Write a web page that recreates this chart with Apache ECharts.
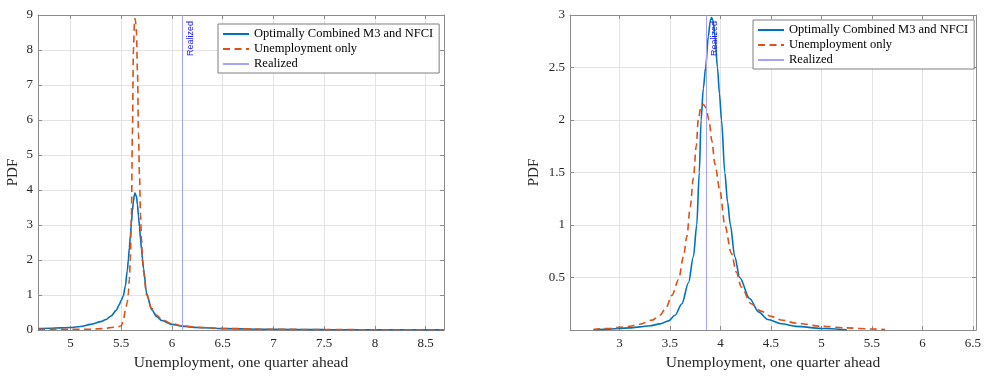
<!DOCTYPE html>
<html>
<head>
<meta charset="utf-8">
<script src="https://cdn.jsdelivr.net/npm/echarts@6/dist/echarts.min.js"></script>
<style>
  html, body { margin: 0; background: #fff; }
  #chart { width: 987px; height: 376px; }
</style>
</head>
<body>
<div id="chart"></div>
<script>
// Predictive densities of unemployment one quarter ahead.
const seriesNames = ["Optimally Combined M3 and NFCI", "Unemployment only", "Realized"];

// left panel
const leftX = [4.68, 4.8, 4.9, 5.0, 5.1, 5.2, 5.3, 5.35, 5.4, 5.45, 5.48, 5.5, 5.52, 5.54, 5.56, 5.57,
  5.58, 5.59, 5.6, 5.61, 5.62, 5.63, 5.635, 5.64, 5.65, 5.66, 5.67, 5.68, 5.69, 5.7, 5.71, 5.72,
  5.75, 5.8, 5.85, 5.9, 6.0, 6.1, 6.25, 6.5, 7.0, 7.5, 8.0, 8.68];
const leftCombined = [0.04, 0.05, 0.06, 0.07, 0.1, 0.16, 0.24, 0.3, 0.4, 0.56, 0.72, 0.85, 0.97, 1.25, 1.7, 2.0,
  2.35, 2.7, 3.05, 3.4, 3.68, 3.87, 3.91, 3.92, 3.82, 3.58, 3.25, 2.95, 2.6, 2.3, 2.02, 1.75,
  1.05, 0.58, 0.38, 0.27, 0.16, 0.11, 0.07, 0.04, 0.02, 0.01, 0.008, 0.005];
const leftUnemp = [0.02, 0.02, 0.02, 0.02, 0.02, 0.025, 0.04, 0.05, 0.07, 0.09, 0.1, 0.12, 0.25, 0.55, 0.8, 1.05,
  1.45, 2.05, 3.2, 5.6, 8.0, 8.75, 8.9, 8.85, 8.5, 7.4, 5.6, 4.4, 3.3, 2.6, 1.95, 1.65,
  1.0, 0.62, 0.42, 0.3, 0.18, 0.12, 0.075, 0.045, 0.02, 0.012, 0.008, 0.005];
const leftRealized = 6.1;
const leftXRange = [4.68, 8.68];
const leftYRange = [0, 9];

// right panel
const rightCombinedX = [2.76, 2.9, 3.0, 3.1, 3.2, 3.3, 3.4, 3.487, 3.55, 3.618, 3.683, 3.732, 3.765, 3.79,
  3.808, 3.83, 3.853, 3.88, 3.9, 3.912, 3.925, 3.945, 3.97, 3.99, 4.01, 4.043, 4.07, 4.098, 4.141,
  4.19, 4.288, 4.38, 4.468, 4.6, 4.75, 5.0, 5.25];
const rightCombined = [0.003, 0.008, 0.015, 0.02, 0.03, 0.04, 0.058, 0.087, 0.14, 0.25, 0.45, 0.7, 1.0, 1.5,
  2.0, 2.3, 2.5, 2.8, 2.95, 2.975, 2.95, 2.8, 2.5, 2.25, 2.0, 1.5, 1.22, 1.0, 0.7,
  0.5, 0.3, 0.17, 0.1, 0.06, 0.035, 0.015, 0.003];
const rightUnempX = [2.74, 2.9, 3.0, 3.1, 3.2, 3.324, 3.4, 3.455, 3.52, 3.585, 3.634, 3.667, 3.7, 3.732,
  3.76, 3.78, 3.805, 3.83, 3.855, 3.886, 3.915, 3.945, 3.994, 4.043, 4.108, 4.157, 4.206, 4.304,
  4.4, 4.5, 4.6, 4.75, 5.0, 5.25, 5.5, 5.63];
const rightUnemp = [0.005, 0.015, 0.025, 0.035, 0.055, 0.094, 0.14, 0.2, 0.33, 0.48, 0.7, 0.89, 1.17, 1.45,
  1.75, 2.0, 2.12, 2.15, 2.12, 2.0, 1.8, 1.58, 1.33, 1.0, 0.73, 0.55, 0.41, 0.25,
  0.18, 0.13, 0.095, 0.065, 0.035, 0.02, 0.01, 0.004];
const rightRealized = 3.863;
const rightXRange = [2.51, 6.53];
const rightYRange = [0, 3];

const pairs = (xs, ys) => xs.map((x, i) => [x, ys[i]]);

const SERIF = "'Liberation Serif', 'Times New Roman', serif";
const INK = "#262626";
const BOX = "#8c8c8c";
const GRIDLINE = "#e3e3e3";
const BLUE = "#0072BD";
const RED = "#D95319";
const REAL = "#a4a4ff";

function xAxes(range, grid) {
  const base = {
    type: "value", gridIndex: grid, min: range[0], max: range[1],
    minInterval: 0.5, maxInterval: 0.5,
    axisLine: { show: true, onZero: false, lineStyle: { color: BOX, width: 1 } },
    axisTick: { show: true, inside: true, length: 4, lineStyle: { color: BOX } },
  };
  return [
    { ...base, position: "bottom",
      name: "Unemployment, one quarter ahead", nameLocation: "middle", nameGap: 25,
      nameTextStyle: { fontFamily: SERIF, fontSize: 15.5, color: INK },
      axisLabel: { fontFamily: SERIF, fontSize: 13, color: INK, margin: 7, showMinLabel: false, showMaxLabel: false },
      splitLine: { show: true, lineStyle: { color: GRIDLINE } } },
    { ...base, position: "top", axisLabel: { show: false }, splitLine: { show: false } },
  ];
}

function yAxes(range, step, grid, gap, hideZero) {
  const base = {
    type: "value", gridIndex: grid, min: range[0], max: range[1], interval: step,
    axisLine: { show: true, onZero: false, lineStyle: { color: BOX, width: 1 } },
    axisTick: { show: true, inside: true, length: 4, lineStyle: { color: BOX } },
  };
  return [
    { ...base, position: "left",
      name: "PDF", nameLocation: "middle", nameGap: gap,
      nameTextStyle: { fontFamily: SERIF, fontSize: 15, color: INK },
      axisLabel: { fontFamily: SERIF, fontSize: 13, color: INK, margin: 5,
        formatter: (v) => (hideZero && v === 0 ? "" : String(v)) },
      splitLine: { show: true, lineStyle: { color: GRIDLINE } } },
    { ...base, position: "right", axisLabel: { show: false }, splitLine: { show: false } },
  ];
}

function panelSeries(ax, combined, unemp, realized) {
  return [
    { name: seriesNames[0], type: "line", xAxisIndex: ax, yAxisIndex: ax, data: combined,
      symbol: "none", smooth: 0.3, smoothMonotone: "x", z: 3,
      lineStyle: { color: BLUE, width: 1.6 }, itemStyle: { color: BLUE } },
    { name: seriesNames[1], type: "line", xAxisIndex: ax, yAxisIndex: ax, data: unemp,
      symbol: "none", smooth: 0.3, smoothMonotone: "x", z: 4,
      lineStyle: { color: RED, width: 1.6, type: [7, 4.5] }, itemStyle: { color: RED } },
    { name: seriesNames[2], type: "line", xAxisIndex: ax, yAxisIndex: ax, data: [],
      symbol: "none", lineStyle: { color: REAL, width: 1 }, itemStyle: { color: REAL },
      markLine: {
        silent: true, symbol: "none", animation: false,
        lineStyle: { color: REAL, width: 1, type: "solid" },
        label: { show: true, formatter: "Realized", position: "insideEndBottom", distance: [6, 4],
          color: "#1a1aff", fontFamily: "'Liberation Sans', Arial, sans-serif", fontSize: 9 },
        data: [{ xAxis: realized }],
      } },
  ];
}

function legend(left, top) {
  return {
    data: seriesNames, orient: "vertical", left, top,
    padding: [3, 6, 2, 4], itemGap: 1, itemWidth: 26, itemHeight: 14,
    backgroundColor: "#fff", borderColor: "#7f7f7f", borderWidth: 1, borderRadius: 0,
    selectedMode: false,
    itemStyle: { opacity: 0 },
    textStyle: { fontFamily: SERIF, fontSize: 12.5, color: "#000", lineHeight: 14 },
  };
}

const chart = echarts.init(document.getElementById("chart"));
chart.setOption({
  animation: false,
  backgroundColor: "#fff",
  grid: [
    { left: 38, top: 15, width: 406, height: 319 },
    { left: 570, top: 15, width: 406, height: 320 },
  ],
  xAxis: [...xAxes(leftXRange, 0), ...xAxes(rightXRange, 1)],
  yAxis: [...yAxes(leftYRange, 1, 0, 17, false), ...yAxes(rightYRange, 0.5, 1, 28, true)],
  legend: [legend(218, 24), legend(753, 20)],
  series: [
    ...panelSeries(0, pairs(leftX, leftCombined), pairs(leftX, leftUnemp), leftRealized),
    ...panelSeries(2, pairs(rightCombinedX, rightCombined), pairs(rightUnempX, rightUnemp), rightRealized),
  ],
});
</script>
</body>
</html>
